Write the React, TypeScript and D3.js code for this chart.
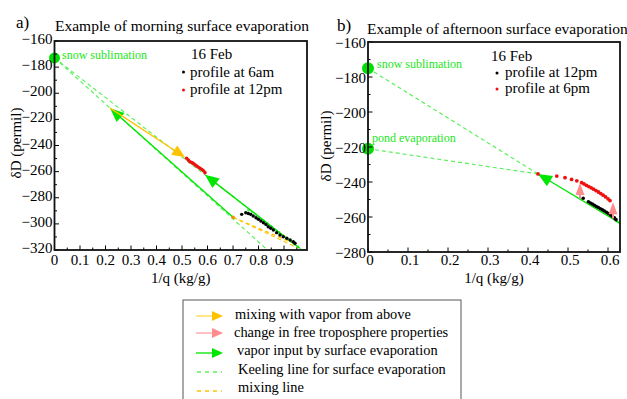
import React from 'react';
import * as d3 from 'd3';

const FONT = "'Liberation Serif', 'Times New Roman', serif";
const GREEN = '#19e019';
const LGREEN = '#5cf05c';
const GOLD = '#ffc200';
const PINK = '#ff8c8c';
const RED = '#ee1111';

// ---------- panel a ----------
const aXTicks = [0, 0.1, 0.2, 0.3, 0.4, 0.5, 0.6, 0.7, 0.8, 0.9];
const aYTicks = [-160, -180, -200, -220, -240, -260, -280, -300, -320];
const aSnow = [0, -173];
const aKeeling = [
  [[0, -173], [0.97, -320]],
  [[0, -173], [0.835, -320]],
];
const aMixLines = [
  [[0.7, -295], [0.94, -315]],
  [[0.7, -295], [0.955, -318.5]],
];
const aGreenArrows = [
  [[0.7, -295], [0.218, -211.4]],
  [[0.96, -318.5], [0.59, -262.4]],
];
const aGoldArrows = [[[0.218, -211.4], [0.512, -249]]];
const aMixPoint = [0.7, -295];
const aBlack6am = [
  [0.734, -292.7], [0.75, -291.5], [0.76, -292.0], [0.769, -292.7], [0.779, -294.0],
  [0.79, -295.3], [0.799, -296.5], [0.809, -297.8], [0.819, -299.1], [0.829, -300.4],
  [0.838, -302.2], [0.848, -303.4], [0.858, -304.7], [0.871, -306.7], [0.884, -308.5],
  [0.897, -309.8], [0.911, -311.0], [0.924, -312.3], [0.936, -313.6], [0.943, -314.8],
];
const aRed12pm = [
  [0.518, -249.8], [0.525, -251.2], [0.531, -252.4], [0.538, -253.1], [0.544, -253.7],
  [0.551, -254.8], [0.558, -255.7], [0.564, -256.6], [0.571, -257.5], [0.578, -258.4],
  [0.584, -259.3], [0.59, -260.8],
];
const aGreenDots = [
  [0.76, -289.5], [0.775, -291.0], [0.79, -293.0], [0.805, -295.5], [0.82, -297.5],
  [0.835, -299.8], [0.85, -302.0], [0.865, -304.5], [0.88, -306.5], [0.895, -308.8],
  [0.91, -311.0], [0.925, -313.0], [0.94, -315.5], [0.955, -317.5],
];

// ---------- panel b ----------
const bXTicks = [0, 0.1, 0.2, 0.3, 0.4, 0.5, 0.6];
const bYTicks = [-160, -180, -200, -220, -240, -260, -280];
const bSnow = [0, -175];
const bPond = [0, -221];
const bKeeling = [
  [[0, -175], [0.425, -235.4]],
  [[0, -221], [0.425, -235.4]],
  [[0.62, -262.5], [0.63, -264]],
];
const bGreenArrows = [[[0.63, -263.5], [0.425, -235.4]]];
const bPinkArrows = [
  [[0.53, -249.3], [0.53, -240.6]],
  [[0.6125, -260.8], [0.6125, -251.6]],
];
const bBlack12pm = [
  [0.538, -249.3], [0.551, -251.3], [0.556, -252.0], [0.561, -252.6], [0.566, -253.3],
  [0.571, -254.0], [0.576, -254.6], [0.581, -255.3], [0.586, -255.9], [0.591, -256.6],
  [0.596, -257.3], [0.601, -258.0], [0.606, -258.8], [0.611, -259.6], [0.616, -260.5],
  [0.62, -261.5],
];
const bRed6pm = [
  [0.425, -235.4], [0.472, -236.6], [0.4925, -237.5], [0.509, -238.5], [0.522, -239.3],
  [0.534, -240.4], [0.54, -241.1], [0.546, -241.9], [0.552, -242.6], [0.558, -243.3],
  [0.564, -244.1], [0.57, -244.9], [0.576, -245.7], [0.582, -246.6], [0.588, -247.5],
  [0.594, -248.5], [0.6, -249.6], [0.605, -250.6],
];

const legendItems = [
  { kind: 'arrow', color: GOLD, line: '#ffd84a', label: 'mixing with vapor from above' },
  { kind: 'arrow', color: PINK, line: '#ffa0a0', label: 'change in free troposphere properties' },
  { kind: 'arrow', color: '#00e600', line: '#00e600', label: 'vapor input by surface evaporation' },
  { kind: 'dash', color: LGREEN, line: LGREEN, label: 'Keeling line for surface evaporation' },
  { kind: 'dash', color: GOLD, line: GOLD, label: 'mixing line' },
];

function head(x1: number, y1: number, x2: number, y2: number, len: number, hw: number) {
  const dx = x2 - x1, dy = y2 - y1;
  const d = Math.hypot(dx, dy) || 1;
  const ux = dx / d, uy = dy / d;
  const bx = x2 - ux * len, by = y2 - uy * len;
  const nx = -uy, ny = ux;
  return `${x2},${y2} ${bx + nx * hw},${by + ny * hw} ${bx - nx * hw},${by - ny * hw}`;
}

function Arrow({ x1, y1, x2, y2, color, lineColor, width = 1.3, len = 13, hw = 5.5 }: any) {
  const d = Math.hypot(x2 - x1, y2 - y1);
  const ux = (x2 - x1) / d, uy = (y2 - y1) / d;
  return (
    <g>
      <line x1={x1} y1={y1} x2={x2 - ux * len * 0.6} y2={y2 - uy * len * 0.6} stroke={lineColor || color} strokeWidth={width} />
      <polygon points={head(x1, y1, x2, y2, len, hw)} fill={color} />
    </g>
  );
}

function Panel({ x, y, xTicks, yTicks, minorX, minorY, labelDy, xLabelShift, title, tag, tagX, tagY, titleX, titleY, yLabelX, yLabelY, children }: any) {
  const [x0, x1] = x.range();
  const [y0, y1] = y.range(); // y0 bottom, y1 top
  return (
    <g fontFamily={FONT}>
      {children}
      {minorX.map((t: number, i: number) => (
        <line key={'mx' + i} x1={x(t)} x2={x(t)} y1={y0} y2={y0 - 2.5} stroke="#000" strokeWidth={1} />
      ))}
      {minorY.map((t: number, i: number) => (
        <line key={'my' + i} x1={x0} x2={x0 + 2.5} y1={y(t)} y2={y(t)} stroke="#000" strokeWidth={1} />
      ))}
      {xTicks.map((t: number, i: number) => (
        <g key={'xt' + i}>
          <line x1={x(t)} x2={x(t)} y1={y0} y2={y0 - 4.5} stroke="#000" strokeWidth={1} />
          <text x={x(t) + xLabelShift} y={265} textAnchor="middle" fontSize={15}>{t === 0 ? '0' : String(t)}</text>
        </g>
      ))}
      {yTicks.map((t: number, i: number) => (
        <g key={'yt' + i}>
          <line x1={x0} x2={x0 + 4.5} y1={y(t)} y2={y(t)} stroke="#000" strokeWidth={1} />
          <text x={x0 - 2} y={y(t) + labelDy} textAnchor="end" fontSize={15} dominantBaseline="central">
            {'\u2212' + Math.abs(t)}
          </text>
        </g>
      ))}
      <rect x={x0} y={y1} width={x1 - x0} height={y0 - y1} fill="none" stroke="#111" strokeWidth={1.8} />
      <text x={titleX} y={titleY} fontSize={15.5}>{title}</text>
      <text x={tagX} y={tagY} fontSize={17}>{tag}</text>
      <text x={(x0 + x1) / 2} y={283} textAnchor="middle" fontSize={15}>1/q (kg/g)</text>
      <text transform={`translate(${yLabelX},${yLabelY}) rotate(-90)`} textAnchor="middle" fontSize={15}>δD (permil)</text>
    </g>
  );
}

export default function App() {
  const ax = d3.scaleLinear().domain([0, 0.99]).range([54.5, 307]);
  const ay = d3.scaleLinear().domain([-320, -160]).range([250, 41]);
  const bx = d3.scaleLinear().domain([0, 0.63]).range([368, 620]);
  const by = d3.scaleLinear().domain([-280, -160]).range([252, 42]);

  const aMinorX = d3.range(0.05, 0.99, 0.1);
  const aMinorY = d3.range(-310, -160, 20);
  const bMinorX = d3.range(0.05, 0.63, 0.1);
  const bMinorY = d3.range(-270, -160, 20);

  const dash = '4,3';

  return (
    <svg width={627} height={399} style={{ position: 'absolute', left: 0, top: 0, background: '#fff' }}>
      <defs>
        <clipPath id="clipA"><rect x={54.5} y={41} width={252.5} height={209} /></clipPath>
        <clipPath id="clipB"><rect x={368} y={42} width={252} height={210} /></clipPath>
      </defs>

      {/* -------- panel a -------- */}
      <Panel x={ax} y={ay} xTicks={aXTicks} yTicks={aYTicks} minorX={aMinorX} minorY={aMinorY} labelDy={-2}
        xLabelShift={0} title="Example of morning surface evaporation" tag="a)" tagX={16} tagY={28}
        titleX={55} titleY={31} yLabelX={21} yLabelY={143}>
        <g clipPath="url(#clipA)">
          {aKeeling.map((l, i) => (
            <line key={'ak' + i} x1={ax(l[0][0])} y1={ay(l[0][1])} x2={ax(l[1][0])} y2={ay(l[1][1])}
              stroke={LGREEN} strokeWidth={1.2} strokeDasharray={dash} />
          ))}
          {aMixLines.map((l, i) => (
            <line key={'am' + i} x1={ax(l[0][0])} y1={ay(l[0][1])} x2={ax(l[1][0])} y2={ay(l[1][1])}
              stroke={GOLD} strokeWidth={1.2} strokeDasharray={dash} />
          ))}
          {aGreenDots.map((p, i) => (
            <circle key={'agd' + i} cx={ax(p[0])} cy={ay(p[1])} r={1.3} fill={LGREEN} />
          ))}
          {aGreenArrows.map((l, i) => (
            <Arrow key={'aga' + i} x1={ax(l[0][0])} y1={ay(l[0][1])} x2={ax(l[1][0])} y2={ay(l[1][1])} color="#00e600" width={1.4} len={14} hw={6} />
          ))}
          {aGoldArrows.map((l, i) => (
            <Arrow key={'aya' + i} x1={ax(l[0][0])} y1={ay(l[0][1])} x2={ax(l[1][0])} y2={ay(l[1][1])} color={GOLD} width={1.3} len={13} hw={5.5} />
          ))}
          {aBlack6am.map((p, i) => (
            <circle key={'ab' + i} cx={ax(p[0])} cy={ay(p[1])} r={1.7} fill="#000" />
          ))}
          {aRed12pm.map((p, i) => (
            <circle key={'ar' + i} cx={ax(p[0])} cy={ay(p[1])} r={1.8} fill={RED} />
          ))}
          <circle cx={ax(aMixPoint[0])} cy={ay(aMixPoint[1])} r={1.8} fill="#e89000" />
        </g>
        <circle cx={ax(aSnow[0])} cy={ay(aSnow[1])} r={5.5} fill="#00e000" />
        <text x={62} y={59} fontSize={12} fill="#22e622">snow sublimation</text>
        <text x={191} y={59} fontSize={15}>16 Feb</text>
        <circle cx={183.5} cy={72} r={1.5} fill="#000" />
        <text x={190} y={77} fontSize={15}>profile at 6am</text>
        <circle cx={183.5} cy={90} r={1.5} fill={RED} />
        <text x={190} y={94} fontSize={15}>profile at 12pm</text>
      </Panel>

      {/* -------- panel b -------- */}
      <Panel x={bx} y={by} xTicks={bXTicks} yTicks={bYTicks} minorX={bMinorX} minorY={bMinorY} labelDy={1}
        xLabelShift={2} title="Example of afternoon surface evaporation" tag="b)" tagX={337} tagY={31}
        titleX={367} titleY={34} yLabelX={331} yLabelY={146}>
        <g clipPath="url(#clipB)">
          {bKeeling.map((l, i) => (
            <line key={'bk' + i} x1={bx(l[0][0])} y1={by(l[0][1])} x2={bx(l[1][0])} y2={by(l[1][1])}
              stroke={LGREEN} strokeWidth={1.2} strokeDasharray={dash} />
          ))}
          {bGreenArrows.map((l, i) => (
            <Arrow key={'bga' + i} x1={bx(l[0][0])} y1={by(l[0][1])} x2={bx(l[1][0])} y2={by(l[1][1])} color="#00e600" width={1.3} len={14} hw={6} />
          ))}
          {bRed6pm.map((p, i) => (
            <circle key={'br' + i} cx={bx(p[0])} cy={by(p[1])} r={1.9} fill={RED} />
          ))}
          {bBlack12pm.map((p, i) => (
            <circle key={'bb' + i} cx={bx(p[0])} cy={by(p[1])} r={1.8} fill="#000" />
          ))}
          {bPinkArrows.map((l, i) => (
            <Arrow key={'bpa' + i} x1={bx(l[0][0])} y1={by(l[0][1])} x2={bx(l[1][0])} y2={by(l[1][1])} color={PINK} width={2} len={12} hw={4.5} />
          ))}
        </g>
        <circle cx={bx(bSnow[0])} cy={by(bSnow[1])} r={6} fill="#00e000" />
        <circle cx={bx(bPond[0])} cy={by(bPond[1])} r={6} fill="#00e000" />
        <text x={377} y={68} fontSize={12} fill="#22e622">snow sublimation</text>
        <text x={372} y={142} fontSize={12} fill="#22e622">pond evaporation</text>
        <text x={491} y={61} fontSize={15}>16 Feb</text>
        <circle cx={497} cy={73} r={1.5} fill="#000" />
        <text x={505} y={77} fontSize={15}>profile at 12pm</text>
        <circle cx={497} cy={89} r={1.5} fill={RED} />
        <text x={505} y={93} fontSize={15}>profile at 6pm</text>
      </Panel>

      {/* -------- legend -------- */}
      <g fontFamily={FONT}>
        <rect x={183} y={300} width={278} height={110} fill="none" stroke="#555" strokeWidth={1} />
        {legendItems.map((it, i) => {
          const yy = [316, 333, 353, 372, 391][i];
          const ty = [319, 337, 355, 374, 392][i];
          const tx = [235, 234, 237, 238, 238][i];
          return (
            <g key={'lg' + i}>
              {it.kind === 'arrow' ? (
                <Arrow x1={196} y1={yy} x2={223} y2={yy} color={it.color} lineColor={it.line} width={1.3} len={11} hw={5} />
              ) : (
                <line x1={197} x2={222} y1={yy} y2={yy} stroke={it.line} strokeWidth={1.3} strokeDasharray="4,4" />
              )}
              <text x={tx} y={ty} fontSize={14.4}>{it.label}</text>
            </g>
          );
        })}
      </g>
    </svg>
  );
}
